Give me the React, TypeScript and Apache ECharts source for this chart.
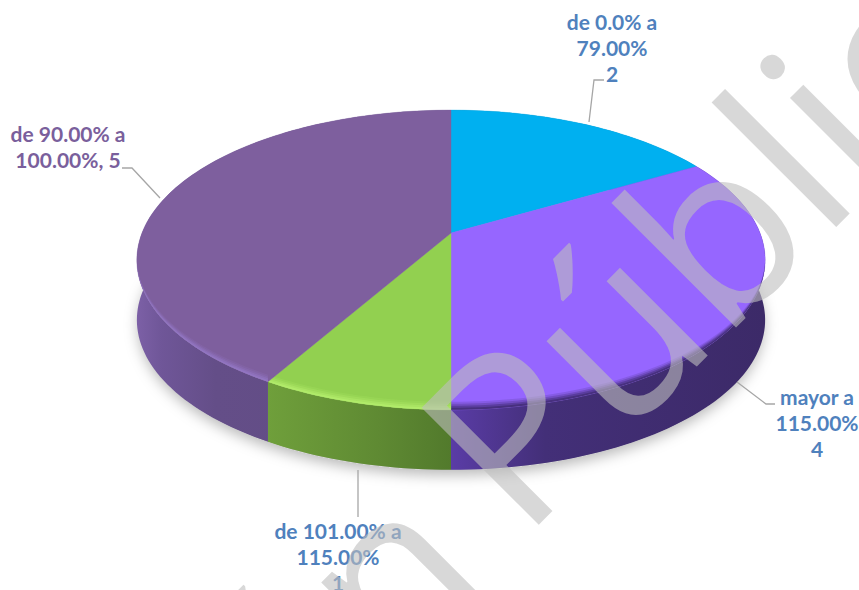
import React, { useEffect, useRef } from "react";
import * as echarts from "echarts";

// Data
const categories = ["de 0.0% a 79.00%", "mayor a 115.00%", "de 101.00% a 115.00%", "de 90.00% a 100.00%"];
const counts = [2, 4, 1, 5];

// Styles
const topColors = ["#00b0f0", "#9666ff", "#92d050", "#7e5f9e"];
const rimColors = ["#00b0f0", "#3f2b70", "#b4ee6c", "#9478c6"];
const sideStops = [
  [[0, "#007db0"], [1, "#007db0"]],
  [[0, "#5a3ca6"], [0.3, "#432f78"], [1, "#3c2a68"]],
  [[0, "#6f9f3b"], [0.6, "#5f8a33"], [1, "#527a2c"]],
  [[0, "#7c60a6"], [0.08, "#6f5698"], [0.25, "#644e88"], [1, "#604b82"]],
];
const labelBlue = "#4f81bd";
const labelPurple = "#7a5f9c";

// Projection of the tilted disc
const CX = 451;
const CY = 233;
const A = 309;
const B = 145;
const K = 0.18;
const DEPTH = 60;
const ELLIPSE_TOP = 110;
const ELLIPSE_H = 300;

function project(turn: number): [number, number] {
  const t = turn * Math.PI * 2;
  const u = Math.sin(t);
  const v = -Math.cos(t);
  const d = 1 - K * v;
  return [CX + (A * u) / d, CY + (B * v) / d];
}

function arc(from: number, to: number): [number, number][] {
  const pts: [number, number][] = [];
  const n = Math.max(4, Math.ceil((to - from) * 240));
  for (let i = 0; i <= n; i++) pts.push(project(from + ((to - from) * i) / n));
  return pts;
}

function sliceRange(index: number): [number, number] {
  const total = counts.reduce((a, b) => a + b, 0);
  const before = counts.slice(0, index).reduce((a, b) => a + b, 0);
  return [before / total, (before + counts[index]) / total];
}

function rimBand(edge: [number, number][], size: number): [number, number][] {
  const inner = edge.map(([x, y]): [number, number] => {
    const f = Math.max(0, (y - (ELLIPSE_TOP + ELLIPSE_H * 0.48)) / (ELLIPSE_H * 0.52));
    return [x, y - size * Math.pow(f, 0.6)];
  });
  return [...edge, ...inner.reverse()];
}

const labelLines = [
  { text: "de 0.0% a\n79.00%\n" + counts[0], x: 612, y: 47, fill: labelBlue },
  { text: "mayor a\n115.00%\n" + counts[1], x: 817, y: 422, fill: labelBlue },
  { text: "de 101.00% a\n115.00%\n" + counts[2], x: 338, y: 556, fill: labelBlue },
  { text: "de 90.00% a\n100.00%, " + counts[3], x: 68, y: 146, fill: labelPurple },
];

const leaders = [
  [[589, 122], [594, 80], [604, 80]],
  [[737, 382], [766, 404], [775, 404]],
  [[358, 470], [358, 517]],
  [[160, 198], [132, 168], [122, 168]],
];

export default function App() {
  const ref = useRef<HTMLDivElement>(null);
  useEffect(() => {
    document.body.style.margin = "0";
    const chart = echarts.init(ref.current!, undefined, { renderer: "svg" });
    const data = counts.map((value, i) => ({ name: categories[i], value }));
    chart.setOption({
      animation: false,
      backgroundColor: "#ffffff",
      series: [
        {
          type: "custom",
          coordinateSystem: "none",
          z: 2,
          data,
          renderItem: (params: any) => {
            const i = params.dataIndex;
            const [from, to] = sliceRange(i);
            const edge = arc(from, to);
            const low = edge.map(([x, y]): [number, number] => [x, y + DEPTH]);
            return {
              type: "polygon",
              shape: { points: [...edge, ...low.reverse()] },
              style: {
                fill: new echarts.graphic.LinearGradient(0, 0, 1, 0, sideStops[i].map(([offset, color]) => ({ offset, color })) as any),
              },
            };
          },
        },
        {
          type: "custom",
          coordinateSystem: "none",
          z: 3,
          data,
          renderItem: (params: any) => {
            const i = params.dataIndex;
            const [from, to] = sliceRange(i);
            const edge = arc(from, to);
            const children: any[] = [
              {
                type: "polygon",
                shape: { points: [[CX, CY], ...edge] },
                style: { fill: topColors[i], stroke: topColors[i], lineWidth: 0.4 },
              },
            ];
            [[8, 0.18], [6, 0.28], [4, 0.45], [2, 0.7]].forEach(([size, opacity]) => {
              children.push({
                type: "polygon",
                shape: { points: rimBand(edge, size) },
                style: { fill: rimColors[i], opacity },
              });
            });
            return { type: "group", children };
          },
        },
      ],
      graphic: [
        {
          type: "ellipse",
          z: 1,
          shape: { cx: CX, cy: ELLIPSE_TOP + ELLIPSE_H / 2 + DEPTH, rx: 313, ry: 150 },
          style: { fill: "#bbbbbb", shadowBlur: 14, shadowColor: "rgba(0,0,0,0.28)", shadowOffsetY: 5 },
        },
        ...leaders.map((points) => ({
          type: "polyline",
          z: 5,
          shape: { points },
          style: { stroke: "#a6a6a6", lineWidth: 1.3, fill: "none" },
        })),
        ...labelLines.map((l) => ({
          type: "text",
          z: 5,
          x: l.x,
          y: l.y,
          style: {
            text: l.text,
            fill: l.fill,
            font: '700 21px Lato',
            lineHeight: 26,
            textAlign: "center",
            textVerticalAlign: "middle",
          },
        })),
        {
          type: "text",
          z: 10,
          x: 459,
          y: 477,
          rotation: Math.PI / 4,
          silent: true,
          style: {
            text: "Pública",
            fill: "rgba(190,190,190,0.6)",
            font: '500 232px "Open Sans"',
            textAlign: "left",
            textVerticalAlign: "middle",
          },
        },
        {
          type: "text",
          z: 10,
          x: 432,
          y: 520,
          rotation: Math.PI / 4,
          silent: true,
          style: {
            text: "Versión",
            fill: "rgba(190,190,190,0.6)",
            font: '500 232px "Open Sans"',
            textAlign: "right",
            textVerticalAlign: "middle",
          },
        },
      ],
    });
    return () => chart.dispose();
  }, []);
  return <div ref={ref} style={{ position: "fixed", left: 0, top: 0, width: 859, height: 590 }} />;
}
